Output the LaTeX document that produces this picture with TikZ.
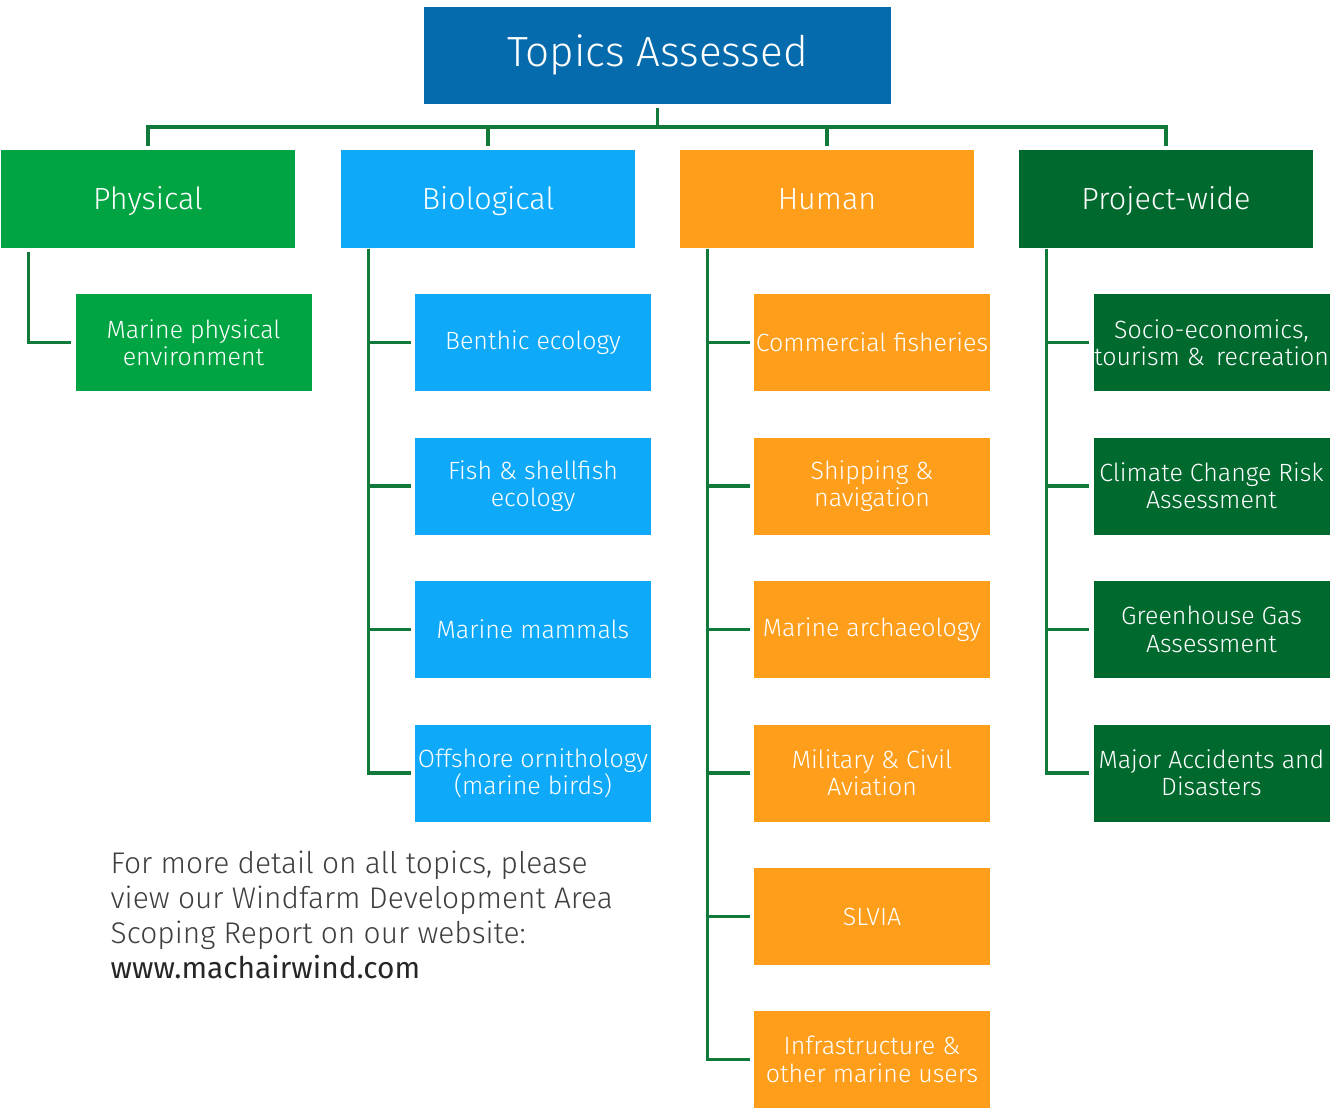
\documentclass[tikz,border=0pt]{standalone}
\usepackage{fontspec}
\setmainfont{Fira Sans}[UprightFont=* Light]
\newfontfamily\webfont{Fira Sans}
\usepackage{xcolor}
\usepackage{tikz}
\usetikzlibrary{calc}
\definecolor{topblue}{RGB}{6,107,173}
\definecolor{physgreen}{RGB}{0,164,67}
\definecolor{bioblue}{RGB}{14,169,249}
\definecolor{humorange}{RGB}{255,158,27}
\definecolor{projgreen}{RGB}{0,106,46}
\definecolor{linkgreen}{RGB}{17,122,58}
\definecolor{notegray}{RGB}{64,62,60}
\tikzset{
  topbox/.style ={fill=topblue, text=white, minimum width=4.67cm, minimum height=0.97cm, inner sep=0pt, text height=1.6ex, text depth=0.45ex, font=\fontsize{12pt}{14pt}\selectfont},
  catbox/.style ={text=white, minimum width=2.94cm, minimum height=0.98cm, inner sep=0pt, text height=1.6ex, text depth=0.45ex, font=\fontsize{8.7pt}{10pt}\selectfont},
  subbox/.style ={text=white, minimum width=2.36cm, minimum height=0.97cm, inner sep=0pt, align=center, font=\fontsize{7.1pt}{7.8pt}\selectfont},
  link/.style   ={draw=linkgreen, line width=0.9pt},
}
\begin{document}
\begin{tikzpicture}[x=1cm,y=1cm]
  \useasboundingbox (0,0) rectangle (13.31,-11.07);
  % top and categories
  \node[topbox] (top) at (6.575,-0.555) {Topics Assessed};
  \node[catbox,fill=physgreen] (phys) at (1.48,-1.99) {Physical};
  \node[catbox,fill=bioblue] (bio) at (4.88,-1.99) {Biological};
  \node[catbox,fill=humorange] (hum) at (8.27,-1.99) {Human};
  \node[catbox,fill=projgreen] (proj) at (11.66,-1.99) {Project-wide};
  \coordinate (bar) at (6.575,-1.27);
  \draw[link] ([yshift=-1pt]top.south) -- (bar);
  \draw[link] (bar) -| ([yshift=1pt]phys.north);
  \draw[link] (bar) -| ([yshift=1pt]bio.north);
  \draw[link] (bar) -| ([yshift=1pt]hum.north);
  \draw[link] (bar) -| ([yshift=1pt]proj.north);
  % physical
  \node[subbox,fill=physgreen] (mpe) at (1.935,-3.425) {Marine physical\\environment};
  \draw[link] ([xshift=0.28cm,yshift=-1pt]phys.south west) |- ([xshift=-1pt]mpe.west);
  % biological
  \node[subbox,fill=bioblue] (ben) at (5.33,-3.425) {Benthic ecology};
  \node[subbox,fill=bioblue] (fish) at (5.33,-4.86) {Fish \& shellfish\\ecology};
  \node[subbox,fill=bioblue] (mam) at (5.33,-6.295) {Marine mammals};
  \node[subbox,fill=bioblue] (orn) at (5.33,-7.73) {Offshore ornithology\\(marine birds)};
  \draw[link] ([xshift=0.28cm,yshift=-1pt]bio.south west) |- ([xshift=-1pt]orn.west);
  \draw[link] ([xshift=0.28cm]bio.south west) |- ([xshift=-1pt]ben.west);
  \draw[link] ([xshift=0.28cm]bio.south west) |- ([xshift=-1pt]fish.west);
  \draw[link] ([xshift=0.28cm]bio.south west) |- ([xshift=-1pt]mam.west);
  % human
  \node[subbox,fill=humorange] (fis) at (8.72,-3.425) {Commercial fisheries};
  \node[subbox,fill=humorange] (ship) at (8.72,-4.86) {Shipping \&\\navigation};
  \node[subbox,fill=humorange] (arch) at (8.72,-6.295) {Marine archaeology};
  \node[subbox,fill=humorange] (mil) at (8.72,-7.73) {Military \& Civil\\Aviation};
  \node[subbox,fill=humorange] (slv) at (8.72,-9.165) {SLVIA};
  \node[subbox,fill=humorange] (inf) at (8.72,-10.595) {Infrastructure \&\\other marine users};
  \draw[link] ([xshift=0.28cm,yshift=-1pt]hum.south west) |- ([xshift=-1pt]inf.west);
  \draw[link] ([xshift=0.28cm]hum.south west) |- ([xshift=-1pt]fis.west);
  \draw[link] ([xshift=0.28cm]hum.south west) |- ([xshift=-1pt]ship.west);
  \draw[link] ([xshift=0.28cm]hum.south west) |- ([xshift=-1pt]arch.west);
  \draw[link] ([xshift=0.28cm]hum.south west) |- ([xshift=-1pt]mil.west);
  \draw[link] ([xshift=0.28cm]hum.south west) |- ([xshift=-1pt]slv.west);
  % project-wide
  \node[subbox,fill=projgreen] (soc) at (12.115,-3.425) {Socio-economics,\\tourism \&\hspace{0.45em}recreation};
  \node[subbox,fill=projgreen] (clim) at (12.115,-4.86) {Climate Change Risk\\Assessment};
  \node[subbox,fill=projgreen] (ghg) at (12.115,-6.295) {Greenhouse Gas\\Assessment};
  \node[subbox,fill=projgreen] (acc) at (12.115,-7.73) {Major Accidents and\\Disasters};
  \draw[link] ([xshift=0.28cm,yshift=-1pt]proj.south west) |- ([xshift=-1pt]acc.west);
  \draw[link] ([xshift=0.28cm]proj.south west) |- ([xshift=-1pt]soc.west);
  \draw[link] ([xshift=0.28cm]proj.south west) |- ([xshift=-1pt]clim.west);
  \draw[link] ([xshift=0.28cm]proj.south west) |- ([xshift=-1pt]ghg.west);
  % note
  \node[anchor=north west, align=left, inner sep=0pt, text=notegray, font=\fontsize{8.5pt}{10pt}\selectfont] (note) at (1.10,-8.50)
    {For more detail on all topics, please\\view our Windfarm Development Area\\Scoping Report on our website:\\{\webfont\color{black!85}www.machairwind.com}};
\end{tikzpicture}
\end{document}
